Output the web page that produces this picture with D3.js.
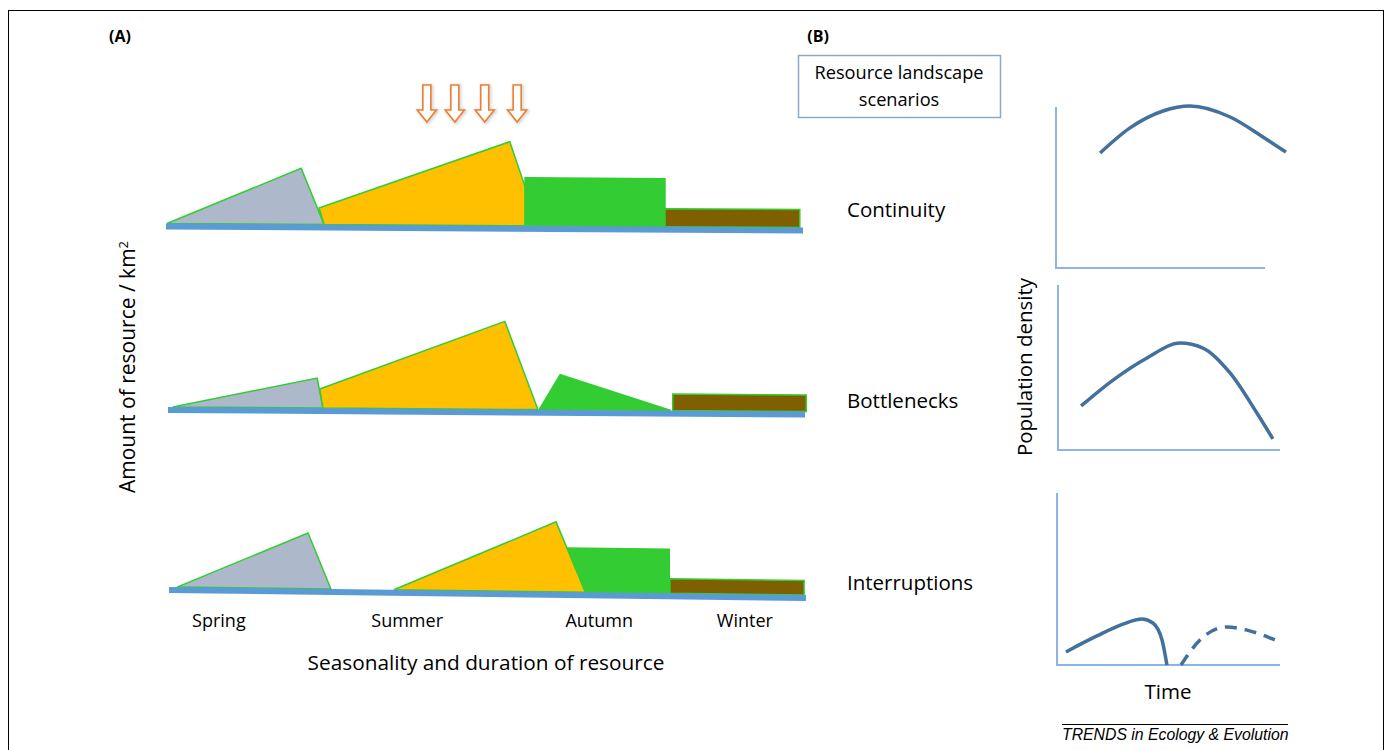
<!DOCTYPE html>
<html>
<head>
<meta charset="utf-8">
<script src="https://cdn.jsdelivr.net/npm/d3@7"></script>
<style>
  body { margin: 0; background: #fff; }
  text { font-family: "Open Sans", Lato, sans-serif; fill: #000; }
  text.footer { font-family: "Liberation Sans", Arial, sans-serif; font-style: italic; }
</style>
</head>
<body>
<svg id="fig" width="1391" height="750"></svg>
<script>
// ---- data (A): resource shapes, [time, amount] per vertex ----
const seasons = ["Spring", "Summer", "Autumn", "Winter"];
const seasonLabelTime = [8, 37.6, 67.8, 90.7];
const scenarios = ["Continuity", "Bottlenecks", "Interruptions"];
const arrowTimes = [40.7, 45.1, 49.8, 54.9];

const continuityShapes = [
  {season: "Spring", pts: [[0, 0], [21.1, 56], [24.7, 0]]},
  {season: "Summer", pts: [[23.9, 16.5], [53.9, 84], [56.3, 39], [56.3, 0], [24.7, 0]]},
  {season: "Autumn", pts: [[56.3, 0], [56.3, 48], [78.3, 48], [78.3, 0]]},
  {season: "Winter", pts: [[78.3, 0], [78.3, 18], [99.5, 18], [99.5, 0]]}
];
const bottleneckShapes = [
  {season: "Spring", pts: [[0.6, 0], [23.3, 30], [24.2, 0]]},
  {season: "Summer", pts: [[23.7, 19], [52.8, 88], [58.0, 0], [24.2, 0]]},
  {season: "Autumn", pts: [[58.2, 0], [61.5, 35], [78.9, 0]]},
  {season: "Winter", pts: [[79.2, 0], [79.2, 16.5], [100.2, 16.5], [100.2, 0]]}
];
const interruptionShapes = [
  {season: "Spring", pts: [[1.1, 0], [21.7, 55.7], [25.3, 0]]},
  {season: "Autumn", pts: [[62.4, 0], [62.4, 44], [78.5, 44], [78.5, 0]]},
  {season: "Summer", pts: [[35.2, 0], [60.7, 70], [65.3, 0]]},
  {season: "Winter", pts: [[78.6, 0], [78.6, 14.5], [99.7, 14.5], [99.7, 0]]}
];

// ---- data (B): population density over time ----
const continuityCurve = [[21.1, 71.4], [35.4, 87], [51.2, 97.5], [64.1, 100.6], [83.3, 93.8], [99, 81.4], [110, 72]];
const bottleneckCurve = [[10.4, 26.7], [24.8, 42.4], [40.1, 55.8], [55.0, 64.8], [65.3, 61.8], [77.5, 46.7], [89.6, 22.4], [96.8, 6.7]];
const interruptionCurve = [[4.0, 7.6], [17.9, 16.9], [29.6, 23.8], [38.1, 26.7], [43.0, 24.4], [47.1, 14.5], [49.3, 0]];
const recoveryCurve = [[55.6, 0], [64.1, 14.5], [76.2, 22.1], [85.2, 20.3], [97.8, 14.5]];

const svg = d3.select("#fig");

const seasonColor = d3.scaleOrdinal()
  .domain(seasons)
  .range(["#adb9ca", "#ffc000", "#33cc33", "#7f6000"]);

// frame
svg.append("rect")
  .attr("x", 8.5).attr("y", 10.5)
  .attr("width", 1375).attr("height", 760)
  .attr("fill", "none").attr("stroke", "#000").attr("stroke-width", 1);

// ---------------- panel A ----------------
const x = d3.scaleLinear().domain([0, 100]).range([168, 804]);
const amt = d3.scaleLinear().domain([0, 100]).range([0, -100]);

const rows = [
  {name: scenarios[0], shapes: continuityShapes, base: [226.5, 230.5], dx: -1, labelY: 210},
  {name: scenarios[1], shapes: bottleneckShapes, base: [410, 414.5], dx: 1, labelY: 401},
  {name: scenarios[2], shapes: interruptionShapes, base: [590, 598], dx: 2, labelY: 583}
];

rows.forEach(row => {
  const baseY = d3.scaleLinear().domain([0, 100]).range(row.base);
  const g = svg.append("g").attr("transform", `translate(${row.dx},0)`);
  const px = p => [x(p[0]), baseY(p[0]) - 3 + amt(p[1])];

  g.selectAll(".shape")
    .data(row.shapes)
    .join("polygon")
    .attr("class", "shape")
    .attr("points", d => d.pts.map(px).map(p => p.join(",")).join(" "))
    .attr("fill", d => seasonColor(d.season))
    .attr("stroke", "#33cc33")
    .attr("stroke-width", 1.5);

  g.append("line")
    .attr("x1", x(0) - 1).attr("y1", baseY(0))
    .attr("x2", x(100)).attr("y2", baseY(100))
    .attr("stroke", "#5b9bd5")
    .attr("stroke-width", 6);

  svg.append("text")
    .attr("x", 847).attr("y", row.labelY)
    .attr("dy", "0.35em")
    .attr("font-size", 20.5)
    .text(row.name);
});

// arrows above summer peak
const arrowShape = "M-4,0 L4,0 L4,25 L9.5,25 L0,37 L-9.5,25 L-4,25 Z";
const defs = svg.append("defs");
const blur = defs.append("filter").attr("id", "shadow").attr("x", "-50%").attr("y", "-50%").attr("width", "200%").attr("height", "200%");
blur.append("feGaussianBlur").attr("stdDeviation", 1.5);

svg.selectAll(".arrow-sh")
  .data(arrowTimes)
  .join("path")
  .attr("class", "arrow-sh")
  .attr("d", arrowShape)
  .attr("transform", d => `translate(${x(d) + 1},${86})`)
  .attr("fill", "none")
  .attr("stroke", "#c9c9c9")
  .attr("stroke-width", 2.5)
  .attr("filter", "url(#shadow)");

svg.selectAll(".arrow")
  .data(arrowTimes)
  .join("path")
  .attr("class", "arrow")
  .attr("d", arrowShape)
  .attr("transform", d => `translate(${x(d)},${85})`)
  .attr("fill", "#fff")
  .attr("stroke", "#ed7d31")
  .attr("stroke-width", 1.6);

// season labels
svg.selectAll(".season")
  .data(seasons)
  .join("text")
  .attr("class", "season")
  .attr("x", (d, i) => x(seasonLabelTime[i]))
  .attr("y", 621)
  .attr("dy", "0.35em")
  .attr("text-anchor", "middle")
  .attr("font-size", 18)
  .text(d => d);

svg.append("text")
  .attr("x", 486).attr("y", 663)
  .attr("dy", "0.35em")
  .attr("text-anchor", "middle")
  .attr("font-size", 20.8)
  .text("Seasonality and duration of resource");

const yLab = svg.append("text")
  .attr("transform", "translate(128,367) rotate(-90)")
  .attr("dy", "0.35em")
  .attr("text-anchor", "middle")
  .attr("font-size", 21);
yLab.append("tspan").text("Amount of resource / km");
yLab.append("tspan").attr("font-size", 13).attr("dy", "-0.6em").text("2");

svg.append("text")
  .attr("x", 120).attr("y", 36)
  .attr("dy", "0.35em")
  .attr("text-anchor", "middle")
  .attr("font-size", 16).attr("font-weight", "bold")
  .text("(A)");

// ---------------- panel B ----------------
svg.append("text")
  .attr("x", 818).attr("y", 36)
  .attr("dy", "0.35em")
  .attr("text-anchor", "middle")
  .attr("font-size", 16).attr("font-weight", "bold")
  .text("(B)");

svg.append("rect")
  .attr("x", 798.5).attr("y", 55.5)
  .attr("width", 202).attr("height", 62)
  .attr("fill", "#fff")
  .attr("stroke", "#8ea9c8")
  .attr("stroke-width", 1.5);

svg.append("text")
  .attr("x", 899).attr("y", 73).attr("dy", "0.35em")
  .attr("text-anchor", "middle").attr("font-size", 18.2)
  .text("Resource landscape");
svg.append("text")
  .attr("x", 899).attr("y", 100).attr("dy", "0.35em")
  .attr("text-anchor", "middle").attr("font-size", 18.2)
  .text("scenarios");

const plots = [
  {x0: 1056, x1: 1265, y0: 268, y1: 107, curves: [{pts: continuityCurve, dash: null}]},
  {x0: 1058, x1: 1280, y0: 450, y1: 285, curves: [{pts: bottleneckCurve, dash: null}]},
  {x0: 1057, x1: 1280, y0: 665, y1: 493, curves: [{pts: interruptionCurve, dash: null}, {pts: recoveryCurve, dash: "12,8"}]}
];

plots.forEach(p => {
  const xs = d3.scaleLinear().domain([0, 100]).range([p.x0, p.x1]);
  const ys = d3.scaleLinear().domain([0, 100]).range([p.y0, p.y1]);

  svg.append("path")
    .attr("d", `M${xs(0)},${ys(100)} L${xs(0)},${ys(0)} L${xs(100)},${ys(0)}`)
    .attr("fill", "none")
    .attr("stroke", "#8db4e2")
    .attr("stroke-width", 2);

  const line = d3.line()
    .x(d => xs(d[0]))
    .y(d => ys(d[1]))
    .curve(d3.curveMonotoneX);

  p.curves.forEach(c => {
    svg.append("path")
      .attr("d", line(c.pts))
      .attr("fill", "none")
      .attr("stroke", "#41719c")
      .attr("stroke-width", 3.5)
      .attr("stroke-dasharray", c.dash);
  });
});

svg.append("text")
  .attr("transform", "translate(1025,367) rotate(-90)")
  .attr("dy", "0.35em")
  .attr("text-anchor", "middle")
  .attr("font-size", 20.5)
  .text("Population density");

svg.append("text")
  .attr("x", 1168).attr("y", 692).attr("dy", "0.35em")
  .attr("text-anchor", "middle").attr("font-size", 20.5)
  .text("Time");

// journal footer
svg.append("line")
  .attr("x1", 1062).attr("x2", 1288)
  .attr("y1", 724.5).attr("y2", 724.5)
  .attr("stroke", "#000").attr("stroke-width", 1);
svg.append("text")
  .attr("class", "footer")
  .attr("x", 1062).attr("y", 740)
  .attr("font-size", 15.8)
  .text("TRENDS in Ecology & Evolution");
</script>
</body>
</html>
